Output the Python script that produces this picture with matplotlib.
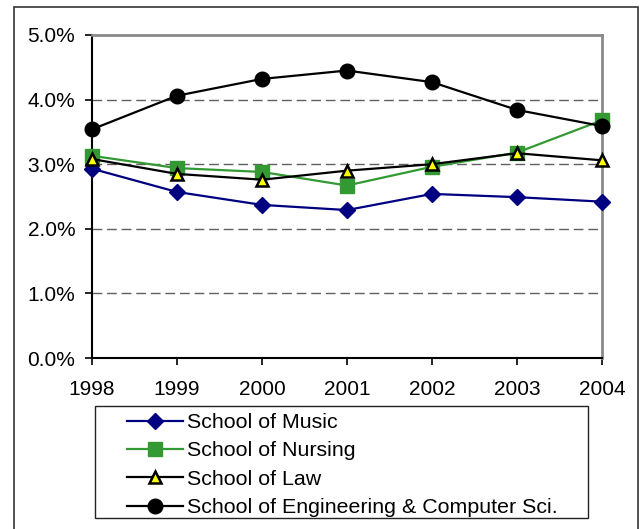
import matplotlib
matplotlib.use("Agg")
import matplotlib.pyplot as plt
from matplotlib.patches import Rectangle
from matplotlib.ticker import FuncFormatter

plt.rcParams['font.family'] = ['Liberation Sans', 'DejaVu Sans']

# data
years = [1998, 1999, 2000, 2001, 2002, 2003, 2004]
music = [2.93, 2.57, 2.37, 2.29, 2.54, 2.49, 2.42]
nursing = [3.13, 2.94, 2.88, 2.67, 2.96, 3.18, 3.68]
law = [3.08, 2.85, 2.76, 2.90, 3.00, 3.17, 3.06]
engineering = [3.54, 4.06, 4.32, 4.45, 4.27, 3.84, 3.59]
labels = ['School of Music', 'School of Nursing', 'School of Law',
          'School of Engineering & Computer Sci.']

W, H = 641, 529
fig = plt.figure(figsize=(W / 100, H / 100), dpi=100)
ax = fig.add_axes([92 / W, 1 - 358 / H, (602 - 92) / W, (358 - 35) / H])

# outer chart border
fig.patches.append(Rectangle((14 / W, -0.05), (638 - 14) / W, 1.05 - 7 / H,
                             transform=fig.transFigure, fill=False,
                             edgecolor='#333333', linewidth=1.2))
# legend frame
fig.patches.append(Rectangle((95 / W, 1 - 518 / H), (588 - 95) / W,
                             (518 - 406) / H, transform=fig.transFigure,
                             fill=False, edgecolor='#222222', linewidth=1))

ax.plot(years, music, color='#000080', lw=1.6, marker='D', ms=8.5,
        label=labels[0], zorder=3)
ax.plot(years, nursing, color='#339933', lw=1.6, marker='s', ms=10.5,
        label=labels[1], zorder=3)
ax.plot(years, law, color='black', lw=1.6, marker='^', ms=9,
        markerfacecolor='#ffff00', markeredgecolor='black', mew=1.8,
        label=labels[2], zorder=4)
ax.plot(years, engineering, color='black', lw=1.6, marker='o', ms=10.5,
        label=labels[3], zorder=4)

ax.set_xlim(1998, 2004)
ax.set_ylim(0, 5)
ax.set_xticks(years)
ax.set_yticks([0, 1, 2, 3, 4, 5])
ax.yaxis.set_major_formatter(FuncFormatter(lambda v, p: f'{v:.1f}%'))
ax.tick_params(labelsize=15, direction='out', length=5, width=1.2,
               colors='black', pad=7)
ax.tick_params(axis='x', pad=11)

for y in [1, 2, 3, 4]:
    ax.axhline(y, color='#606060', lw=1, ls=(0, (7, 3.5)), zorder=1)

for s in ['left', 'bottom']:
    ax.spines[s].set_color('black')
    ax.spines[s].set_linewidth(1.5)
for s in ['top', 'right']:
    ax.spines[s].set_color('#8a8a8a')
    ax.spines[s].set_linewidth(2)
for ln in ax.lines:
    ln.set_clip_on(False)

leg = fig.legend(loc='upper left', bbox_to_anchor=(127 / W, 1 - 413 / H),
                 bbox_transform=fig.transFigure, fontsize=15.4, frameon=False,
                 handlelength=2.6, handletextpad=0.2, labelspacing=0.44,
                 borderpad=0, borderaxespad=0)

fig.savefig('out.png', dpi=100)
